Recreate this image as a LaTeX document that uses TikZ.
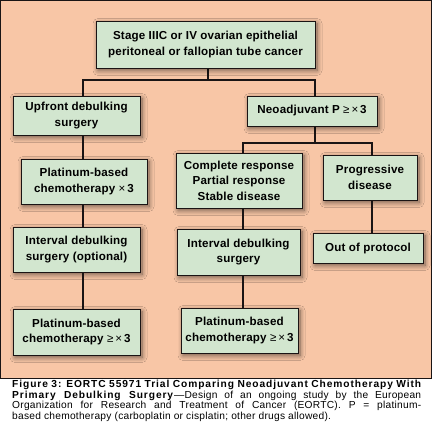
\documentclass[tikz,border=0pt]{standalone}
\usepackage{fontspec}
\setmainfont{Liberation Sans}
\newfontfamily\capfont[LetterSpace=2.5, BoldFeatures={LetterSpace=9}]{Liberation Sans}
\newfontfamily\boxfont[LetterSpace=1.5]{Liberation Sans}
\usetikzlibrary{shadows.blur}
\definecolor{panel}{HTML}{F8C6A6}
\definecolor{boxfill}{HTML}{D2E6CF}
\definecolor{linec}{HTML}{1A1414}
\newcommand{\geqsym}{{\mdseries ≥}}
\newcommand{\timessym}{{\mdseries ×}}
\tikzset{
  stepbox/.style={draw=linec, line width=0.8pt, fill=boxfill, align=center,
    font=\boxfont\fontsize{11.6}{15.5}\selectfont\bfseries, inner sep=0pt,
    blur shadow={shadow xshift=2pt, shadow yshift=-2.5pt, shadow blur steps=8, shadow opacity=55, shadow blur radius=5pt}},
  conn/.style={draw=linec, line width=1.8pt},
}
\begin{document}
\begin{tikzpicture}[x=1pt,y=-1pt]
\useasboundingbox (0,0) rectangle (432,441);
\fill[white] (0,0) rectangle (432,441);
\draw[fill=panel, draw=linec, line width=0.8pt] (0.5,0.5) rectangle (431.5,378);
\coordinate (colL) at (83,0);
\coordinate (colM) at (243,0);
\coordinate (colR) at (372,0);
\coordinate (colN) at (315,0);
% connectors drawn first (under boxes)
\coordinate (j1) at (208,80);
\coordinate (j2) at (315,143);
\draw[conn] (208,68) -- (j1);
\draw[conn] (colL |- 0,96) |- (j1) -| (colN |- 0,96);
\draw[conn] (colN |- 0,126) -- (j2);
\draw[conn] (colM |- 0,153) |- (j2) -| (colR |- 0,155);
% boxes
\node[stepbox, minimum width=219pt, minimum height=47pt] (top) at (205.5,44.5) {Stage IIIC or IV ovarian epithelial\\peritoneal or fallopian tube cancer};
\node[stepbox, minimum width=127pt, minimum height=39pt] (up) at (76.5,115.5) {Upfront debulking\\surgery};
\node[stepbox, minimum width=130pt, minimum height=30pt] (neo) at (312,111) {Neoadjuvant P \geqsym\,\timessym\,3};
\node[stepbox, minimum width=126pt, minimum height=45pt] (plat1) at (84,181.5) {Platinum-based\\chemotherapy \timessym\,3};
\node[stepbox, minimum width=126pt, minimum height=55pt] (resp) at (239,180.5) {Complete response\\Partial response\\Stable disease};
\node[stepbox, minimum width=94pt, minimum height=45pt] (prog) at (370,177.5) {Progressive\\disease};
\node[stepbox, minimum width=127pt, minimum height=45pt] (int1) at (76.5,249.5) {Interval debulking\\surgery (optional)};
\node[stepbox, minimum width=123pt, minimum height=46pt] (int2) at (238.5,252) {Interval debulking\\surgery};
\node[stepbox, minimum width=110pt, minimum height=30pt] (out) at (368,248) {Out of protocol};
\node[stepbox, minimum width=127pt, minimum height=46pt] (plat2) at (76.5,332) {Platinum-based\\chemotherapy \geqsym\,\timessym\,3};
\node[stepbox, minimum width=117pt, minimum height=45pt] (plat3) at (239.5,330.5) {Platinum-based\\chemotherapy \geqsym\,\timessym\,3};
% chains
\draw[conn] (up.south -| colL) -- (plat1.north -| colL);
\draw[conn] (plat1.south -| colL) -- (int1.north -| colL);
\draw[conn] (int1.south -| colL) -- (plat2.north -| colL);
\draw[conn] (resp.south -| colM) -- (int2.north -| colM);
\draw[conn] (int2.south -| colM) -- (plat3.north -| colM);
\draw[conn] (prog.south -| colR) -- (out.north -| colR);
% caption
\node[anchor=north west, inner sep=0pt, text width=409pt, align=justify,
  font=\capfont\fontsize{10.2}{10.6}\selectfont] (cap) at (12,380)
  {\textbf{Figure 3: EORTC 55971 Trial Comparing Neoadjuvant Chemotherapy With\linebreak Primary Debulking Surgery}—Design of an ongoing study by the European\linebreak Organization for Research and Treatment of Cancer (EORTC). P = platinum-\linebreak based chemotherapy (carboplatin or cisplatin; other drugs allowed).};
\end{tikzpicture}
\end{document}
